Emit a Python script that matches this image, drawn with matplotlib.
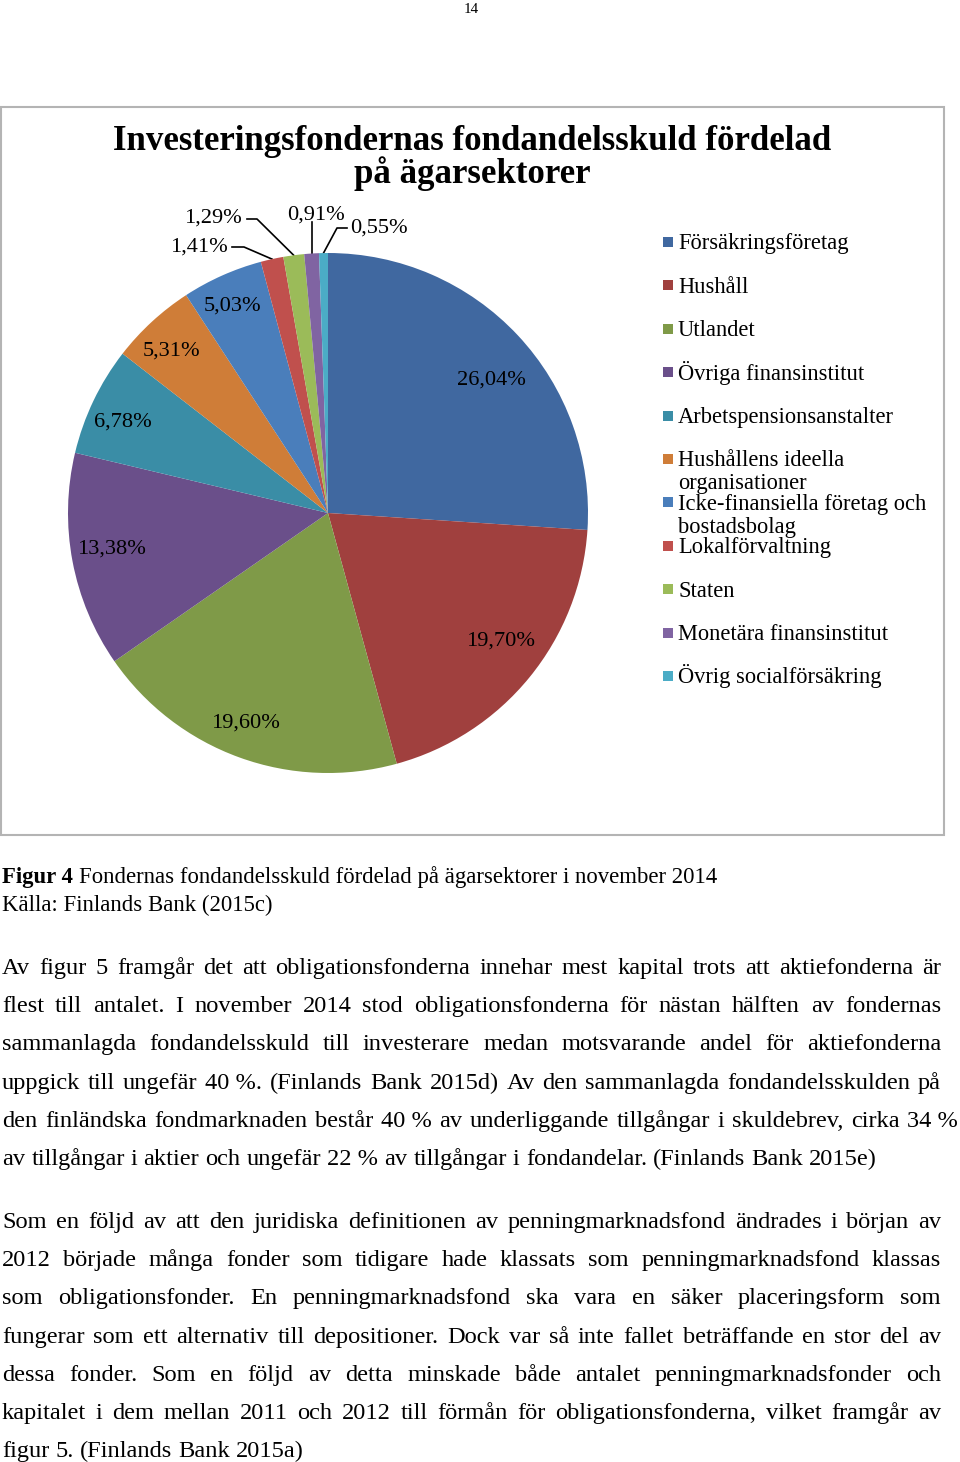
import textwrap
import numpy as np
import matplotlib.pyplot as plt
from matplotlib.patches import Rectangle

# data
sectors = ['Försäkringsföretag', 'Hushåll', 'Utlandet', 'Övriga finansinstitut',
           'Arbetspensionsanstalter', 'Hushållens ideella organisationer',
           'Icke-finansiella företag och bostadsbolag', 'Lokalförvaltning',
           'Staten', 'Monetära finansinstitut', 'Övrig socialförsäkring']
shares = [26.04, 19.70, 19.60, 13.38, 6.78, 5.31, 5.03, 1.41, 1.29, 0.91, 0.55]
colors = ['#4068a0', '#a0403e', '#7f9a48', '#6a4f8a', '#3a8da6', '#cf7d38',
          '#4a7ebb', '#c0504d', '#9bbb59', '#8064a2', '#4bacc6']

title_lines = ['Investeringsfondernas fondandelsskuld fördelad', 'på ägarsektorer']
caption_bold = 'Figur 4'
caption_rest = 'Fondernas fondandelsskuld fördelad på ägarsektorer i november 2014'
source = 'Källa: Finlands Bank (2015c)'
page_no = '14'

para1 = ['Av figur 5 framgår det att obligationsfonderna innehar mest kapital trots att aktiefonderna är',
         'flest till antalet. I november 2014 stod obligationsfonderna för nästan hälften av fondernas',
         'sammanlagda fondandelsskuld till investerare medan motsvarande andel för aktiefonderna',
         'uppgick till ungefär 40\u00a0%. (Finlands Bank 2015d) Av den sammanlagda fondandelsskulden på',
         'den finländska fondmarknaden består 40\u00a0% av underliggande tillgångar i skuldebrev, cirka 34\u00a0%',
         'av tillgångar i aktier och ungefär 22\u00a0% av tillgångar i fondandelar. (Finlands Bank 2015e)']
para2 = ['Som en följd av att den juridiska definitionen av penningmarknadsfond ändrades i början av',
         '2012 började många fonder som tidigare hade klassats som penningmarknadsfond klassas',
         'som obligationsfonder. En penningmarknadsfond ska vara en säker placeringsform som',
         'fungerar som ett alternativ till depositioner. Dock var så inte fallet beträffande en stor del av',
         'dessa fonder. Som en följd av detta minskade både antalet penningmarknadsfonder och',
         'kapitalet i dem mellan 2011 och 2012 till förmån för obligationsfonderna, vilket framgår av',
         'figur 5. (Finlands Bank 2015a)']

SERIF = 'Liberation Serif'
W, H = 960, 1462

fig = plt.figure(figsize=(W / 100, H / 100), dpi=100)
fig.patch.set_facecolor('white')
page = fig.add_axes([0, 0, 1, 1])
page.set_xlim(0, W)
page.set_ylim(H, 0)
page.axis('off')
renderer = fig.canvas.get_renderer()


def text_width(s, size, weight='normal'):
    t = page.text(0, 0, s, fontsize=size, family=SERIF, weight=weight)
    w = t.get_window_extent(renderer).width
    t.remove()
    return w


def fit_size(s, target, weight='normal'):    #font size so that s is target px wide
    return 20 * target / text_width(s, 20, weight)


def base(yc, size):    #baseline for a line whose caps are centred at yc
    return yc + 0.33 * size * 100 / 72


# page number
s_pg = fit_size(page_no, 15)
page.text(471, base(8, s_pg), page_no, fontsize=s_pg, family=SERIF, ha='center', va='baseline')

# chart frame
page.add_patch(Rectangle((1, 107), 943, 728, fill=False, edgecolor='#b4b4b4', lw=1.5))

# title
s_title = fit_size(title_lines[0], 718, 'bold')
for i, line in enumerate(title_lines):
    page.text(472, base(138 + i * 33, s_title), line, fontsize=s_title, family=SERIF,
              weight='bold', ha='center', va='baseline')

# pie
cx, cy, R = 328, 513, 260
pie_ax = fig.add_axes([(cx - R) / W, (H - cy - R) / H, 2 * R / W, 2 * R / H])
pie_ax.pie(shares, colors=colors, startangle=90, counterclock=False,
           wedgeprops=dict(linewidth=0))
pie_ax.set_xlim(-1, 1)
pie_ax.set_ylim(-1, 1)
pie_ax.set_aspect('equal')

cum = np.cumsum([0] + shares)
mid = (cum[:-1] + cum[1:]) / 2 * 3.6    #degrees clockwise from 12 o'clock

s_lab = fit_size('26,04%', 69)
labels = [f'{v:.2f}'.replace('.', ',') + '%' for v in shares]

#inside labels: radius and small angle tweak
inside = [(0.81, 3.9), (0.83, -2.9), (0.866, 1.2), (0.842, 1.2), (0.863, -1.7),
          (0.865, -1.3), (0.876, -0.7)]
for i, (r, dt) in enumerate(inside):
    a = np.radians(mid[i] + dt)
    pie_ax.text(r * np.sin(a), r * np.cos(a), labels[i], fontsize=s_lab, family=SERIF,
                ha='center', va='center')

#outside labels with leader lines (page pixels)
outside = {7: dict(tx=229, ty=244, ha='right', start=(232, 247), elbow=(244, 247)),
           8: dict(tx=243, ty=215, ha='right', start=(247, 219), elbow=(257, 219)),
           9: dict(tx=316, ty=212, ha='center', start=None, elbow=None),
           10: dict(tx=350, ty=225, ha='left', start=(347, 228), elbow=(337, 228))}
for i, o in outside.items():
    a = np.radians(mid[i])
    ex, ey = cx + R * np.sin(a), cy - R * np.cos(a)
    if o['start'] is None:
        pts = [(ex, 222), (ex, ey)]
    else:
        pts = [o['start'], o['elbow'], (ex, ey)]
    xs, ys = zip(*pts)
    page.plot(xs, ys, color='black', lw=1.2)
    page.text(o['tx'], base(o['ty'], s_lab), labels[i], fontsize=s_lab, family=SERIF,
              ha=o['ha'], va='baseline')

# legend
s_leg = fit_size(sectors[0], 170)
for i, (name, c) in enumerate(zip(sectors, colors)):
    y = 242 + i * 43.4
    page.add_patch(Rectangle((663, y - 5), 10, 10, facecolor=c, edgecolor='none'))
    for k, part in enumerate(textwrap.wrap(name, 28)):
        page.text(678, base(y + k * 23, s_leg), part, fontsize=s_leg, family=SERIF, va='baseline')

# caption
s_cap = fit_size(caption_bold + ' ' + caption_rest, 710)
wb = text_width(caption_bold + ' ', s_cap, 'bold')
page.text(2, base(875, s_cap), caption_bold, fontsize=s_cap, family=SERIF, weight='bold', va='baseline')
page.text(2 + wb, base(875, s_cap), caption_rest, fontsize=s_cap, family=SERIF, va='baseline')
page.text(2, base(904, s_cap), source, fontsize=s_cap, family=SERIF, va='baseline')

# body text
s_body = fit_size(para1[-1], 877)
space = text_width('a b', s_body) - text_width('ab', s_body)


def put_line(line, yc, x1=941, justify=True):
    words = line.split(' ')
    widths = [text_width(w_, s_body) for w_ in words]
    gap = space
    if justify and len(words) > 1:
        gap = (x1 - 2 - sum(widths)) / (len(words) - 1)
    x = 2
    for w_, wd in zip(words, widths):
        page.text(x, base(yc, s_body), w_, fontsize=s_body, family=SERIF, va='baseline')
        x += wd + gap


for j, line in enumerate(para1):
    put_line(line, 966 + j * 38.2, x1=958 if j == 4 else 941, justify=j < len(para1) - 1)
for j, line in enumerate(para2):
    put_line(line, 1220 + j * 38.2, justify=j < len(para2) - 1)

fig.savefig('out.png', dpi=100)
